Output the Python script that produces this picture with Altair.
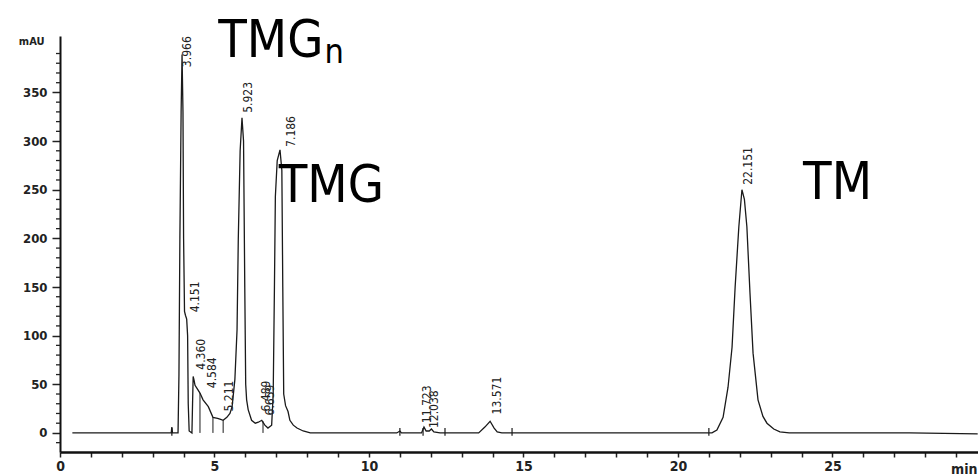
import altair as alt
import pandas as pd

# ---- chromatogram trace (time in min, signal in mAU)
trace_time = [0.4, 3.55, 3.60, 3.62, 3.64, 3.82, 3.85, 3.88, 3.92, 3.95, 3.98, 4.00, 4.03, 4.06,
              4.10, 4.13, 4.15, 4.18, 4.27, 4.29, 4.31, 4.34, 4.37, 4.45, 4.53, 4.63, 4.80, 4.95,
              5.10, 5.20, 5.28, 5.40, 5.50, 5.57, 5.66, 5.73, 5.77, 5.83, 5.89, 5.94, 5.98, 6.01,
              6.04, 6.09, 6.20, 6.32, 6.42, 6.53, 6.63, 6.73, 6.85, 6.90, 6.94, 6.97, 7.03, 7.12,
              7.18, 7.21, 7.24, 7.30, 7.38, 7.44, 7.55, 7.67, 7.87, 8.10, 10.90, 11.00, 11.05,
              11.70, 11.78, 11.85, 11.95, 12.02, 12.10, 12.30, 13.55, 13.75, 13.92, 14.05, 14.15,
              14.30, 21.10, 21.26, 21.46, 21.62, 21.75, 21.85, 21.97, 22.07, 22.15, 22.23, 22.33,
              22.43, 22.59, 22.75, 22.88, 23.10, 23.30, 23.60, 27.50, 29.70]
trace_mau = [0, 0, 0, 6, 0, 0, 60, 200, 330, 389, 330, 200, 125, 121,
             117, 100, 30, 2, 0, 30, 58, 54, 49, 45, 41, 34, 27, 16,
             15, 14, 13, 16, 20, 27, 55, 106, 199, 290, 324, 300, 150, 50,
             34, 24, 13, 10, 11, 13, 8, 5, 8, 40, 150, 243, 280, 291,
             270, 150, 40, 28, 22, 13, 8, 5, 2, 0, 0, 2, 0,
             0, 6, 2, 2, 4, 1, 0, 0, 6, 12, 5, 1,
             0, 0, 3, 16, 47, 88, 150, 212, 250, 240, 212, 144,
             82, 34, 17, 10, 4, 1, 0, 0, -1]

# ---- retention-time labels (text, anchor time, anchor mAU at the label's start)
label_text = ["3.966", "4.151", "4.360", "4.584", "5.211", "5.923", "6.489", "6.659",
              "7.186", "11.723", "12.038", "13.571", "22.151"]
label_time = [4.11, 4.37, 4.56, 4.92, 5.47, 6.08, 6.67, 6.80, 7.48, 11.87, 12.10, 14.14, 22.27]
label_mau = [376, 124, 65, 46, 22, 329, 22, 18, 294, 10, 5, 19, 255]

# ---- drop lines between fused peaks
drop_time = [4.53, 4.95, 5.28, 6.57]
drop_mau = [41, 16, 13, 12]

# ---- integration markers on the baseline
marker_time = [3.62, 11.00, 11.75, 12.46, 14.63, 21.00]

# ---- compound names
name_text = ["TMG", "TMG", "TM"]
name_time = [5.12, 7.08, 24.05]
name_mau = [386, 237, 240]
sub_text = ["n"]
sub_time = [8.56]
sub_mau = [380]

# ---- axis ticks
x_ticks = list(range(0, 30))
y_major = [0, 50, 100, 150, 200, 250, 300, 350]
y_minor = [v for v in range(-10, 410, 10) if v % 50 != 0]

LABEL_FONT = "DejaVu Sans Condensed, DejaVu Sans, sans-serif"
NAME_FONT = "DejaVu Sans Condensed, DejaVu Sans, sans-serif"

Y_SCALE = alt.Scale(domain=[-19.6, 408], nice=False, zero=False)

x_enc = alt.X(
    "time:Q",
    scale=alt.Scale(domain=[0, 29.71], nice=False, zero=False),
    axis=alt.Axis(
        values=x_ticks,
        labelExpr="datum.value % 5 === 0 ? datum.label : ''",
        title="min", titleX=917, titleY=17, titleAlign="right", titleBaseline="middle",
        titleFont=LABEL_FONT, titleFontSize=14, titleFontWeight="bold", titleColor="#222",
        grid=False, domainColor="#111", domainWidth=2.5,
        tickColor="#222", tickSize=5, tickWidth=1.5,
        labelFont=LABEL_FONT, labelFontSize=14, labelFontWeight="bold", labelColor="#222",
        labelPadding=2, labelFlush=False,
    ),
)
y_enc = alt.Y(
    "mau:Q",
    scale=Y_SCALE,
    axis=alt.Axis(
        values=y_major,
        title="mAU", titleAngle=0, titleX=-16, titleY=5, titleAlign="right",
        titleBaseline="middle", titleFont=LABEL_FONT, titleFontSize=11,
        titleFontWeight="bold", titleColor="#222",
        grid=False, domainColor="#111", domainWidth=2,
        tickColor="#222", tickSize=8, tickWidth=1.5,
        labelFont=LABEL_FONT, labelFontSize=13, labelFontWeight="bold", labelColor="#222",
        labelPadding=5, labelFlush=False,
    ),
)

trace_df = pd.DataFrame({"time": trace_time, "mau": trace_mau})
label_df = pd.DataFrame({"time": label_time, "mau": label_mau, "label": label_text})
drop_df = pd.DataFrame({"time": drop_time, "mau": drop_mau})
marker_df = pd.DataFrame({"time": marker_time})
minor_df = pd.DataFrame({"mau": y_minor})
name_df = pd.DataFrame({"time": name_time, "mau": name_mau, "label": name_text})
sub_df = pd.DataFrame({"time": sub_time, "mau": sub_mau, "label": sub_text})

trace = alt.Chart(trace_df).mark_line(color="#1a1a1a", strokeWidth=1.3).encode(x=x_enc, y=y_enc)

drops = alt.Chart(drop_df).mark_rule(color="#1a1a1a", strokeWidth=1).encode(
    x=x_enc, y=y_enc, y2=alt.datum(0))

markers = alt.Chart(marker_df).mark_rule(color="#1a1a1a", strokeWidth=1.2).encode(
    x=x_enc, y=alt.datum(5, scale=Y_SCALE), y2=alt.datum(-3))

minor = alt.Chart(minor_df).mark_rule(color="#222", strokeWidth=1.3).encode(
    x=alt.value(-4), x2=alt.value(0), y=y_enc)

labels = alt.Chart(label_df).mark_text(
    angle=270, align="left", baseline="middle", font=LABEL_FONT, fontSize=12, color="#222"
).encode(x=x_enc, y=y_enc, text="label:N")

names = alt.Chart(name_df).mark_text(
    align="left", baseline="alphabetic", font=NAME_FONT, fontSize=52, color="#000"
).encode(x=x_enc, y=y_enc, text="label:N")

sub = alt.Chart(sub_df).mark_text(
    align="left", baseline="alphabetic", font=NAME_FONT, fontSize=34, color="#000"
).encode(x=x_enc, y=y_enc, text="label:N")

chart = alt.layer(minor, trace, drops, markers, labels, names, sub).properties(
    width=918, height=416,
    autosize=alt.AutoSizeParams(type="none"),
    padding={"left": 60, "top": 36, "right": 0, "bottom": 23},
    background="white",
).configure_view(stroke=None)

chart.save("out.html", embed_options={"renderer": "svg", "actions": False})
